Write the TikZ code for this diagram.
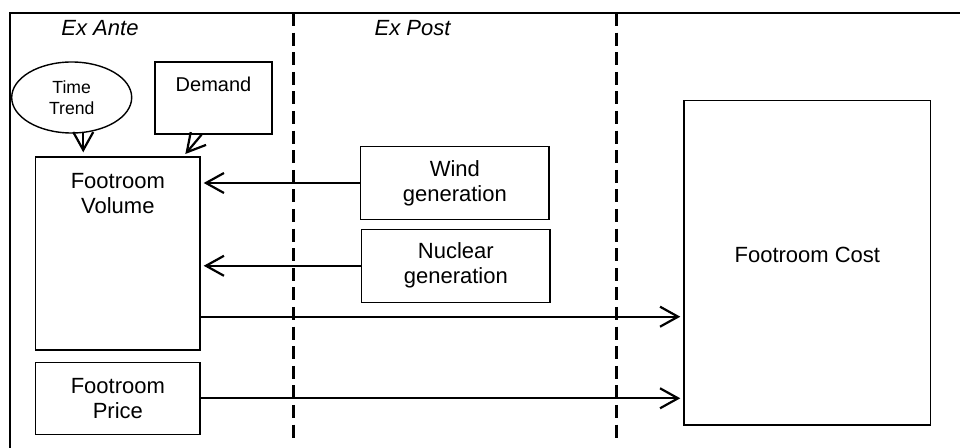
\documentclass[tikz,border=0pt]{standalone}
\usepackage{fontspec}
\setmainfont{Liberation Sans}
\usetikzlibrary{arrows.meta,shapes.geometric,positioning}

\begin{document}
\begin{tikzpicture}[x=0.5pt, y=-0.5pt, >={Straight Barb[length=9pt,width=10pt]}, font=\fontsize{11}{12.5}\selectfont]
  \tikzstyle{box} = [draw, rectangle, line width=0.7pt, inner sep=0pt, align=center]
  \tikzstyle{txt} = [inner sep=0pt, align=center]
  \tikzstyle{flow} = [->, line width=1.1pt, shorten >=1.5pt]
  \tikzstyle{phase} = [line width=1.3pt, dash pattern=on 6.5pt off 3.3pt]
  \useasboundingbox (0,0) rectangle (960,448);
  \draw[line width=0.8pt] (10,448) -- (10,13) -- (960,13);
  \draw[phase] (293.3,13) -- (293.3,443);
  \draw[phase] (616.7,13) -- (616.7,443);
  \node[txt, font=\fontsize{11}{12.5}\selectfont\itshape] (exante) at (100,28) {Ex Ante};
  \node[txt, font=\fontsize{11}{12.5}\selectfont\itshape] (expost) at (412.5,28) {Ex Post};
  \node[draw, ellipse, line width=0.7pt, inner sep=0pt, minimum width=60pt, minimum height=35.5pt, align=center, font=\fontsize{8.8}{10.5}\selectfont] (trend) at (71.7,97.5) {Time\\Trend};
  \node[box, minimum width=58.5pt, minimum height=36pt] (demand) at (213.5,98) {};
  \node[txt, font=\fontsize{10}{12}\selectfont, below=7.5pt of demand.north] (demandtxt) {Demand};
  \node[box, minimum width=82.15pt, minimum height=96.5pt] (volume) at (117.85,253.5) {};
  \node[txt, below=8.5pt of volume.north] (volumetxt) {Footroom\\Volume};
  \node[box, minimum width=82.15pt, minimum height=36pt] (price) at (117.85,398.3) {Footroom\\Price};
  \node[box, minimum width=94.15pt, minimum height=36.3pt] (wind) at (454.85,183) {Wind\\generation};
  \node[box, minimum width=94.15pt, minimum height=36.5pt] (nuclear) at (455.85,265.8) {Nuclear\\generation};
  \node[box, minimum width=123.35pt, minimum height=162.15pt, text height=8pt, text depth=8pt] (cost) at (807.35,262.85) {Footroom Cost};
  \draw[flow, shorten >=2pt] (trend.-72) -- (trend.-72 |- volume.north);
  \draw[flow] (demand.252) -- (volume.56);
  \draw[flow] (wind.west) -- (wind.west -| volume.east);
  \draw[flow] (nuclear.west) -- (nuclear.west -| volume.east);
  \draw[flow] ([yshift=-31.6pt]volume.east) -- ([yshift=-31.6pt]volume.east -| cost.west);
  \draw[flow] (price.east) -- (price.east -| cost.west);
\end{tikzpicture}
\end{document}
